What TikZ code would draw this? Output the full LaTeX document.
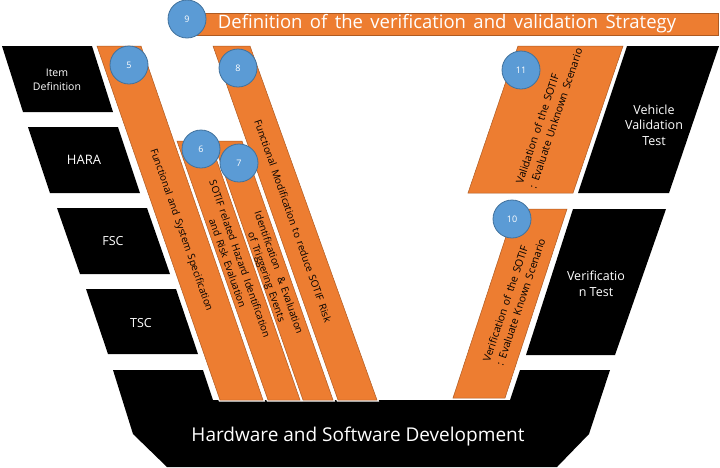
\documentclass[tikz,border=0pt]{standalone}
\usepackage{fontspec}
\setmainfont{Open Sans}
\definecolor{vorange}{HTML}{ED7D31}
\definecolor{vorangedark}{HTML}{AE5A21}
\definecolor{vblue}{HTML}{5B9BD5}
\definecolor{vbluedark}{HTML}{41719C}
\newcommand\widegap{\spaceskip=0.4em plus 0.1em\relax}

\begin{document}
\begin{tikzpicture}[x=1pt,y=-1pt,
   phase/.style={fill=black},
   band/.style={fill=vorange,draw=vorangedark,line width=0.5pt,preaction={draw=white,line width=3pt}},
   phasetext/.style={text=white,align=center,font=\fontsize{12.5}{15.5}\selectfont},
   bandtext/.style={align=center,inner sep=0pt,font=\fontsize{10}{13}\selectfont\widegap},
   stepnum/.style={circle,draw=vbluedark,fill=vblue,line width=0.8pt,minimum size=38pt,inner sep=0pt,text=white,font=\fontsize{9}{9}\selectfont}]
   \useasboundingbox (0,0) rectangle (720,467);
   \fill[phase] (2,46) -- (92,46) -- (113,112) -- (23,112) -- cycle;
   \fill[phase] (28,127) -- (118,127) -- (140,193) -- (50,193) -- cycle;
   \fill[phase] (57,208) -- (147,208) -- (170,274) -- (80,274) -- cycle;
   \fill[phase] (86,289) -- (176,289) -- (198,354) -- (108,354) -- cycle;
   \fill[phase] (627,46) -- (719,46) -- (669,193) -- (578,193) -- cycle;
   \fill[phase] (573,209) -- (666,209) -- (615,355) -- (526,355) -- cycle;
   \fill[phase] (113,370) -- (203,370) -- (213,400) -- (510,400) -- (520,370) -- (610,370)
      -- (589,434) -- (557,467) -- (167,467) -- (133,434) -- cycle;
   \draw[band] (97,46) -- (141,46) -- (263,400) -- (220,400) -- cycle;
   \draw[band] (177,141) -- (210,141) -- (300,400) -- (268,400) -- cycle;
   \draw[band] (213,141) -- (242,141) -- (333,400) -- (303,400) -- cycle;
   \draw[band] (213,46) -- (250,46) -- (377,400) -- (338,400) -- cycle;
   \draw[band] (518,46) -- (623,46) -- (573,193) -- (468,193) -- cycle;
   \draw[band] (515,209) -- (567,209) -- (505,398) -- (453,398) -- cycle;
   \draw[fill=vorange,draw=vorangedark,line width=0.5pt] (190,13) rectangle (718,35);
   \node (item) at (57,80) [phasetext,font=\fontsize{10.5}{14}\selectfont] {Item\\Definition};
   \node (hara) at (84,160) [phasetext,font=\fontsize{13}{15}\selectfont] {HARA};
   \node (fsc) at (113,241) [phasetext] {FSC};
   \node (tsc) at (141,323) [phasetext] {TSC};
   \node (vehicle) at (654,125) [phasetext] {Vehicle\\Validation\\Test};
   \node (vertest) at (596,284) [phasetext] {Verificatio\\n Test};
   \node (hwsw) at (358,437) [text=white,font=\fontsize{19}{19}\selectfont] {Hardware and Software Development};
   \node (strategy) at (447,24) [text=white,font=\fontsize{18.5}{18.5}\selectfont\widegap] {Definition of the verification and validation Strategy};
   \node (spec) at (181,230) [bandtext,rotate=-70.7] {Functional and System Specification};
   \node (hazard) at (234,261) [bandtext,rotate=-70.7] {SOTIF related Hazard Identification\\and Risk Evaluation};
   \node (trigger) at (272,275) [bandtext,rotate=-70.7] {Identification \ \& Evaluation\\of Triggering Events};
   \node (modify) at (293,221) [bandtext,rotate=-70.7] {Functional Modification to reduce SOTIF Risk};
   \node (validate) at (549,116) [bandtext,align=left,rotate=71.5,font=\fontsize{10.5}{14}\selectfont\widegap] {Validation of the SOTIF\\: Evaluate Unknown Scenario};
   \node (verify) at (514,300) [bandtext,align=left,rotate=71.5,font=\fontsize{10.5}{14}\selectfont\widegap] {Verification of the SOTIF\\: Evaluate Known Scenario};
   \node (step9) at (187,19) [stepnum] {9};
   \node (step5) at (129,65) [stepnum] {5};
   \node (step8) at (238,68) [stepnum] {8};
   \node (step6) at (201,149) [stepnum] {6};
   \node (step7) at (239,163) [stepnum] {7};
   \node (step11) at (521,70) [stepnum] {11};
   \node (step10) at (512,219) [stepnum] {10};
\end{tikzpicture}
\end{document}
